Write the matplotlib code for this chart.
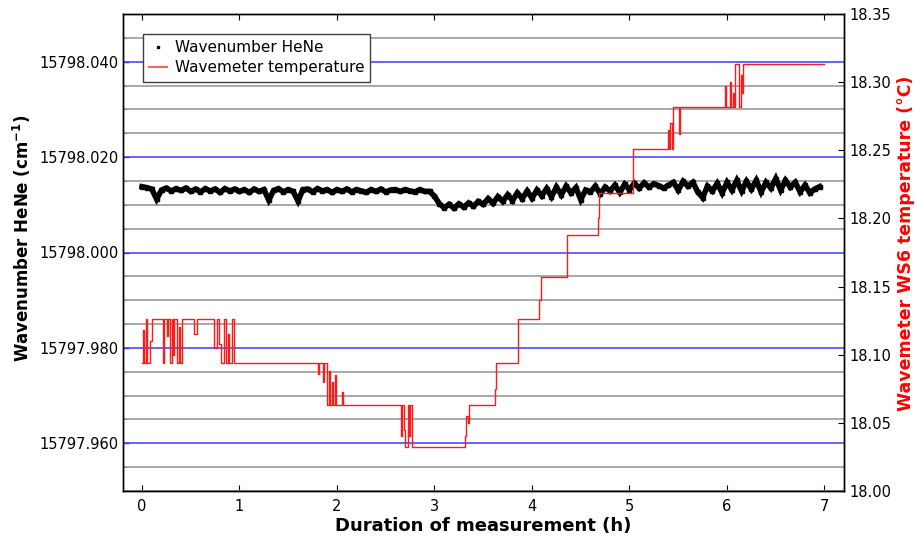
import matplotlib
matplotlib.use("Agg")
import matplotlib.pyplot as plt
from matplotlib.lines import Line2D
from matplotlib.ticker import MultipleLocator, FormatStrFormatter

# ---------------- data ----------------
wn_hours = [0.00, 0.05, 0.10, 0.15, 0.20, 0.25, 0.30, 0.35, 0.40, 0.45,
            0.50, 0.55, 0.60, 0.65, 0.70, 0.75, 0.80, 0.85, 0.90, 0.95,
            1.00, 1.05, 1.10, 1.15, 1.20, 1.25, 1.30, 1.35, 1.40, 1.45,
            1.50, 1.55, 1.60, 1.65, 1.70, 1.75, 1.80, 1.85, 1.90, 1.95,
            2.00, 2.05, 2.10, 2.15, 2.20, 2.25, 2.30, 2.35, 2.40, 2.45,
            2.50, 2.55, 2.60, 2.65, 2.70, 2.75, 2.80, 2.85, 2.90, 2.95,
            3.00, 3.05, 3.10, 3.15, 3.20, 3.25, 3.30, 3.35, 3.40, 3.45,
            3.50, 3.55, 3.60, 3.65, 3.70, 3.75, 3.80, 3.85, 3.90, 3.95,
            4.00, 4.05, 4.10, 4.15, 4.20, 4.25, 4.30, 4.35, 4.40, 4.45,
            4.50, 4.55, 4.60, 4.65, 4.70, 4.75, 4.80, 4.85, 4.90, 4.95,
            5.00, 5.05, 5.10, 5.15, 5.20, 5.25, 5.30, 5.35, 5.40, 5.45,
            5.50, 5.55, 5.60, 5.65, 5.70, 5.75, 5.80, 5.85, 5.90, 5.95,
            6.00, 6.05, 6.10, 6.15, 6.20, 6.25, 6.30, 6.35, 6.40, 6.45,
            6.50, 6.55, 6.60, 6.65, 6.70, 6.75, 6.80, 6.85, 6.90, 6.95]

wavenumber = [15798.0138, 15798.0136, 15798.0133, 15798.0112, 15798.0131, 15798.0135, 15798.0129, 15798.0134, 15798.0130, 15798.0135,
              15798.0128, 15798.0133, 15798.0127, 15798.0134, 15798.0129, 15798.0133, 15798.0126, 15798.0134, 15798.0129, 15798.0133,
              15798.0128, 15798.0132, 15798.0126, 15798.0133, 15798.0128, 15798.0132, 15798.0110, 15798.0130, 15798.0134, 15798.0127,
              15798.0132, 15798.0128, 15798.0108, 15798.0132, 15798.0133, 15798.0127, 15798.0134, 15798.0129, 15798.0132, 15798.0126,
              15798.0132, 15798.0128, 15798.0133, 15798.0127, 15798.0132, 15798.0129, 15798.0126, 15798.0132, 15798.0128, 15798.0133,
              15798.0127, 15798.0131, 15798.0132, 15798.0128, 15798.0132, 15798.0129, 15798.0127, 15798.0132, 15798.0128, 15798.0128,
              15798.0118, 15798.0102, 15798.0094, 15798.0101, 15798.0093, 15798.0102, 15798.0095, 15798.0104, 15798.0097, 15798.0107,
              15798.0101, 15798.0113, 15798.0103, 15798.0117, 15798.0107, 15798.0121, 15798.0109, 15798.0125, 15798.0113, 15798.0129,
              15798.0114, 15798.0131, 15798.0119, 15798.0134, 15798.0117, 15798.0137, 15798.0121, 15798.0139, 15798.0125, 15798.0136,
              15798.0111, 15798.0131, 15798.0127, 15798.0139, 15798.0123, 15798.0137, 15798.0129, 15798.0141, 15798.0126, 15798.0143,
              15798.0132, 15798.0145, 15798.0135, 15798.0146, 15798.0137, 15798.0144, 15798.0140, 15798.0135, 15798.0141, 15798.0147,
              15798.0131, 15798.0149, 15798.0139, 15798.0147, 15798.0127, 15798.0115, 15798.0139, 15798.0129, 15798.0145, 15798.0125,
              15798.0147, 15798.0131, 15798.0151, 15798.0129, 15798.0149, 15798.0133, 15798.0151, 15798.0127, 15798.0147, 15798.0135,
              15798.0155, 15798.0131, 15798.0151, 15798.0137, 15798.0147, 15798.0127, 15798.0141, 15798.0125, 15798.0133, 15798.0138]

temp_hours = [0.00, 0.01, 0.02, 0.04, 0.05, 0.08, 0.10, 0.22, 0.23, 0.26,
              0.27, 0.29, 0.31, 0.32, 0.33, 0.36, 0.38, 0.39, 0.41, 0.53,
              0.56, 0.74, 0.77, 0.79, 0.81, 0.84, 0.86, 0.88, 0.89, 0.92,
              0.94, 1.81, 1.82, 1.86, 1.87, 1.90, 1.92, 1.93, 1.95, 1.96,
              1.98, 1.99, 2.05, 2.06, 2.66, 2.67, 2.69, 2.70, 2.73, 2.74,
              2.75, 2.77, 3.31, 3.32, 3.34, 3.35, 3.62, 3.63, 3.86, 4.07,
              4.09, 4.36, 4.68, 4.69, 5.04, 5.40, 5.41, 5.42, 5.44, 5.45,
              5.51, 5.52, 5.98, 5.99, 6.03, 6.04, 6.06, 6.07, 6.08, 6.12,
              6.14, 6.15, 6.16, 6.99]

temp_celsius = [18.094, 18.118, 18.094, 18.126, 18.094, 18.110, 18.126, 18.094, 18.126, 18.114,
                18.126, 18.094, 18.126, 18.100, 18.126, 18.094, 18.120, 18.094, 18.126, 18.115,
                18.126, 18.105, 18.126, 18.108, 18.094, 18.126, 18.094, 18.115, 18.094, 18.126,
                18.094, 18.086, 18.094, 18.080, 18.094, 18.063, 18.088, 18.063, 18.080, 18.063,
                18.085, 18.063, 18.073, 18.063, 18.040, 18.063, 18.045, 18.032, 18.063, 18.040,
                18.063, 18.032, 18.040, 18.055, 18.050, 18.063, 18.075, 18.094, 18.126, 18.140,
                18.157, 18.188, 18.200, 18.219, 18.251, 18.265, 18.251, 18.270, 18.251, 18.282,
                18.262, 18.282, 18.297, 18.282, 18.300, 18.282, 18.292, 18.282, 18.313, 18.282,
                18.305, 18.292, 18.313, 18.313]

x_ticks = [0, 1, 2, 3, 4, 5, 6, 7]
left_ticks = [15797.96, 15797.98, 15798.00, 15798.02, 15798.04]
right_ticks = [18.00, 18.05, 18.10, 18.15, 18.20, 18.25, 18.30, 18.35]

# ---------------- figure ----------------
fig = plt.figure(figsize=(9.17, 5.38), dpi=100)
ax = fig.add_axes([122.5 / 917, 1 - 491 / 538, (844 - 122.5) / 917, (491 - 14) / 538])
ax2 = ax.twinx()

FS = 10.5
ax.set_xlim(-0.2, 7.2)
ax.set_ylim(15797.950, 15798.050)
ax2.set_ylim(18.00, 18.35)

ax.set_xticks(x_ticks)
ax.set_yticks(left_ticks)
ax.yaxis.set_major_formatter(FormatStrFormatter('%.3f'))
ax.yaxis.set_minor_locator(MultipleLocator(0.005))
ax2.set_yticks(right_ticks)
ax2.yaxis.set_major_formatter(FormatStrFormatter('%.2f'))

ax.grid(True, which='minor', axis='y', color='#a8a8a8', lw=1.4, zorder=0)
ax.grid(True, which='major', axis='y', color='#3a3aff', lw=1.1, zorder=0)
ax.set_axisbelow(True)

ax.tick_params(axis='x', which='both', direction='in', top=True, length=4, width=0.8,
               labelsize=FS, pad=6)
ax.tick_params(axis='y', which='major', direction='in', length=4, width=1, color='#3a3aff',
               labelsize=FS, pad=3)
ax.tick_params(axis='y', which='minor', direction='in', length=3, width=0.8, color='#909090')
ax2.tick_params(axis='y', which='major', direction='in', length=4, width=0.8,
                labelsize=FS, pad=4)

for a in (ax, ax2):
    for s in a.spines.values():
        s.set_linewidth(1.0)
        s.set_color('black')

# black wavenumber data
ax.plot(wn_hours, wavenumber, color='black', lw=4.0, solid_joinstyle='miter', zorder=3)
ax.plot(wn_hours, wavenumber, color='black', ls='none', marker='s', ms=3, zorder=3)

# red temperature data
ax2.plot(temp_hours, temp_celsius, color='#ff1a1a', lw=1.0, drawstyle='steps-post', zorder=4)

ax.set_xlabel('Duration of measurement (h)', fontsize=13, fontweight='bold', labelpad=2)
ax.set_ylabel('Wavenumber HeNe (cm$^{\\mathbf{-1}}$)', fontsize=12, fontweight='bold')
ax.yaxis.set_label_coords(-0.124, 0.53)
ax2.set_ylabel('Wavemeter WS6 temperature (°C)', fontsize=12.5, fontweight='bold',
               color='#ff0000')
ax2.yaxis.set_label_coords(1.074, 0.52)

handles = [Line2D([], [], color='black', ls='none', marker='s', ms=1.5),
           Line2D([], [], color='#ff6060', lw=1.5)]
leg = ax2.legend(handles, ['Wavenumber HeNe', 'Wavemeter temperature'],
                 loc='upper left', bbox_to_anchor=(20 / 721.5, 1 - 20 / 477),
                 fontsize=11, frameon=True, fancybox=False, framealpha=1,
                 edgecolor='#404040', borderpad=0.4, handlelength=1.2, handletextpad=0.5,
                 labelspacing=0.35, borderaxespad=0)
leg.get_frame().set_linewidth(1.0)
leg.set_zorder(10)

fig.savefig('out.png', dpi=100)
